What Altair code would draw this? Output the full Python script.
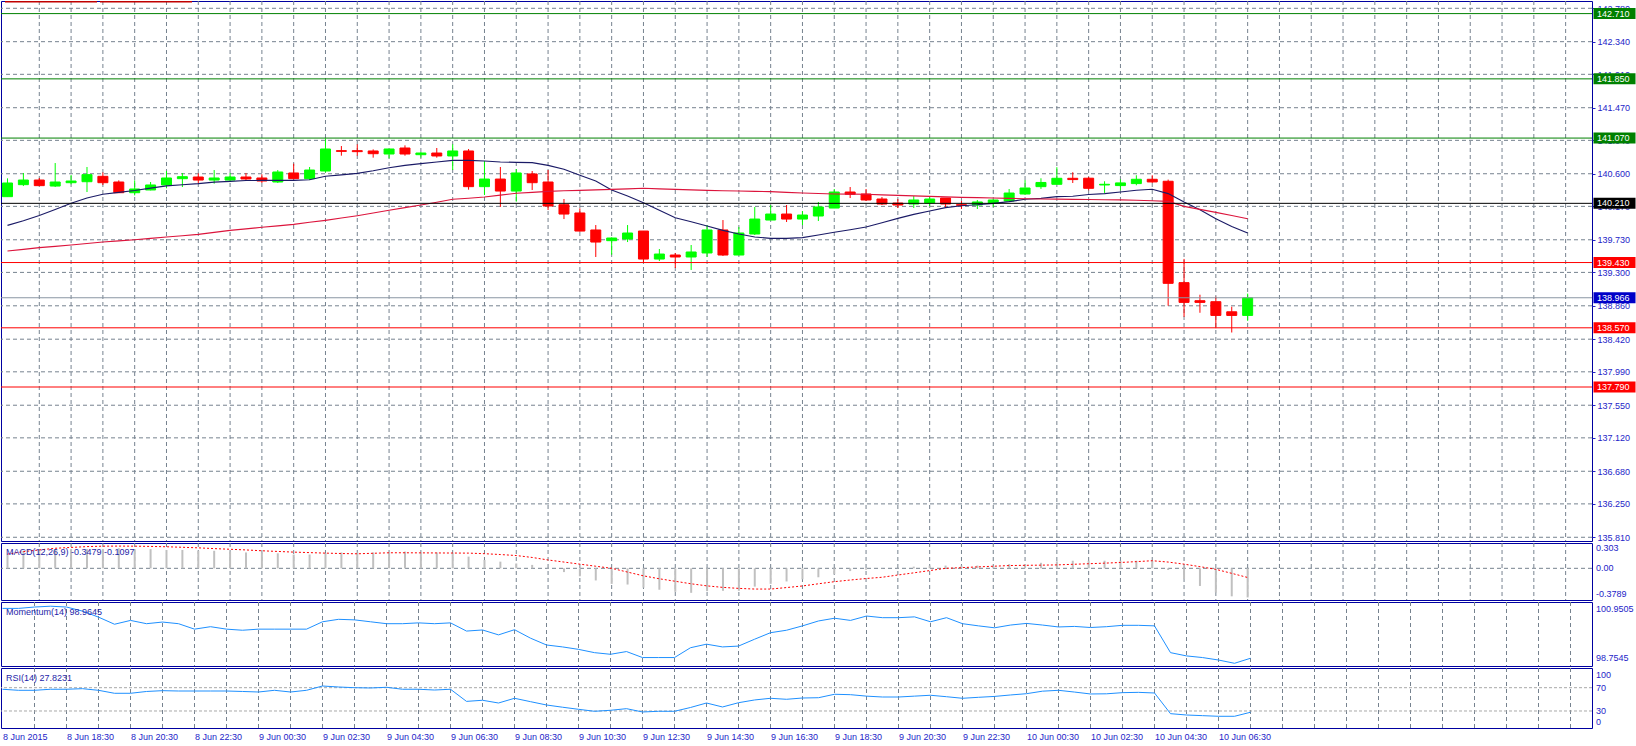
import json
import altair as alt
import pandas as pd

# ---------------- data ----------------
bars = list(range(79))
opens = [140.298, 140.456, 140.517, 140.438, 140.482, 140.495, 140.566, 140.491, 140.350, 140.386,
         140.452, 140.535, 140.557, 140.517, 140.517, 140.557, 140.544, 140.491, 140.610, 140.535,
         140.636, 140.904, 140.904, 140.900, 140.860, 140.939, 140.851, 140.873, 140.834, 140.900,
         140.430, 140.530, 140.372, 140.597, 140.491, 140.192, 140.083, 139.859, 139.718, 139.740,
         139.845, 139.476, 139.529, 139.503, 139.556, 139.859, 139.529, 139.806, 139.990, 140.069,
         140.003, 140.043, 140.148, 140.359, 140.333, 140.267, 140.214, 140.201, 140.214, 140.280,
         140.192, 140.188, 140.214, 140.241, 140.333, 140.430, 140.461, 140.540, 140.541, 140.452,
         140.444, 140.470, 140.527, 140.501, 139.165, 138.927, 138.914, 138.781, 138.733]
highs = [140.539, 140.610, 140.544, 140.741, 140.583, 140.689, 140.618, 140.513, 140.513, 140.491,
         140.636, 140.610, 140.605, 140.649, 140.610, 140.610, 140.592, 140.649, 140.733, 140.689,
         141.066, 140.965, 140.987, 140.921, 140.926, 140.974, 140.886, 140.939, 140.987, 140.926,
         140.768, 140.689, 140.662, 140.636, 140.649, 140.267, 140.144, 139.924, 139.762, 139.924,
         139.845, 139.608, 139.556, 139.661, 139.924, 139.990, 139.898, 140.162, 140.188, 140.188,
         140.109, 140.228, 140.399, 140.425, 140.399, 140.293, 140.267, 140.306, 140.306, 140.280,
         140.241, 140.254, 140.263, 140.399, 140.517, 140.540, 140.686, 140.620, 140.558, 140.501,
         140.527, 140.580, 140.580, 140.523, 139.478, 139.006, 138.980, 138.848, 139.020]
lows = [140.298, 140.438, 140.438, 140.425, 140.460, 140.359, 140.452, 140.346, 140.315, 140.381,
        140.408, 140.425, 140.473, 140.469, 140.491, 140.504, 140.478, 140.478, 140.526, 140.517,
        140.618, 140.838, 140.838, 140.812, 140.803, 140.838, 140.812, 140.812, 140.649, 140.390,
        140.320, 140.162, 140.232, 140.386, 140.122, 140.003, 139.837, 139.503, 139.533, 139.700,
        139.428, 139.450, 139.358, 139.332, 139.503, 139.516, 139.529, 139.793, 139.990, 139.964,
        139.924, 139.977, 140.148, 140.280, 140.241, 140.188, 140.148, 140.148, 140.175, 140.148,
        140.135, 140.135, 140.162, 140.228, 140.320, 140.400, 140.461, 140.478, 140.382, 140.347,
        140.382, 140.448, 140.479, 138.861, 138.715, 138.768, 138.565, 138.508, 138.662]
closes = [140.478, 140.517, 140.443, 140.491, 140.504, 140.588, 140.482, 140.350, 140.399, 140.452,
          140.544, 140.561, 140.517, 140.544, 140.557, 140.531, 140.504, 140.623, 140.535, 140.649,
          140.926, 140.895, 140.891, 140.864, 140.926, 140.860, 140.873, 140.834, 140.900, 140.430,
          140.530, 140.372, 140.610, 140.482, 140.175, 140.069, 139.845, 139.700, 139.753, 139.819,
          139.476, 139.542, 139.503, 139.569, 139.859, 139.529, 139.819, 140.003, 140.069, 140.003,
          140.056, 140.162, 140.359, 140.329, 140.254, 140.201, 140.188, 140.254, 140.267, 140.201,
          140.184, 140.228, 140.254, 140.346, 140.412, 140.485, 140.540, 140.523, 140.408, 140.461,
          140.479, 140.527, 140.492, 139.156, 138.905, 138.905, 138.733, 138.733, 138.966]
ma_fast = [139.920, 139.980, 140.050, 140.130, 140.210, 140.280, 140.330, 140.355, 140.380, 140.410,
           140.440, 140.455, 140.470, 140.490, 140.500, 140.510, 140.513, 140.513, 140.513, 140.520,
           140.566, 140.585, 140.605, 140.640, 140.680, 140.710, 140.733, 140.755, 140.776, 140.776,
           140.768, 140.755, 140.750, 140.746, 140.710, 140.658, 140.579, 140.504, 140.386, 140.307,
           140.219, 140.118, 140.021, 139.968, 139.911, 139.854, 139.806, 139.766, 139.749, 139.749,
           139.758, 139.793, 139.828, 139.863, 139.898, 139.955, 140.012, 140.065, 140.109, 140.153,
           140.179, 140.192, 140.210, 140.232, 140.263, 140.276, 140.298, 140.303, 140.327, 140.338,
           140.360, 140.382, 140.395, 140.338, 140.228, 140.126, 140.007, 139.906, 139.818]
ma_slow = [139.582, 139.604, 139.626, 139.643, 139.661, 139.680, 139.700, 139.715, 139.731, 139.748,
           139.766, 139.783, 139.801, 139.827, 139.854, 139.874, 139.894, 139.913, 139.933, 139.960,
           139.986, 140.016, 140.047, 140.082, 140.118, 140.153, 140.188, 140.225, 140.263, 140.278,
           140.293, 140.318, 140.342, 140.355, 140.368, 140.375, 140.381, 140.388, 140.394, 140.400,
           140.408, 140.400, 140.394, 140.388, 140.381, 140.376, 140.372, 140.368, 140.364, 140.355,
           140.346, 140.340, 140.333, 140.331, 140.329, 140.322, 140.315, 140.308, 140.302, 140.295,
           140.289, 140.285, 140.280, 140.275, 140.271, 140.267, 140.265, 140.262, 140.260, 140.258,
           140.255, 140.250, 140.245, 140.236, 140.170, 140.130, 140.091, 140.050, 140.007]
macd_main = [0.16, 0.21, 0.23, 0.23, 0.23, 0.23, 0.23, 0.24, 0.23, 0.23,
             0.22, 0.22, 0.21, 0.21, 0.20, 0.19, 0.19, 0.18, 0.165, 0.165,
             0.18, 0.19, 0.19, 0.19, 0.20, 0.20, 0.19, 0.19, 0.18, 0.14,
             0.10, 0.08, 0.058, 0.041, 0.005, -0.045, -0.095, -0.145, -0.186, -0.194,
             -0.231, -0.256, -0.281, -0.293, -0.273, -0.269, -0.269, -0.219, -0.186, -0.157,
             -0.132, -0.107, -0.070, -0.033, -0.017, -0.003, 0.003, 0.020, 0.033, 0.033,
             0.033, 0.033, 0.025, 0.050, 0.050, 0.066, 0.083, 0.091, 0.091, 0.091,
             0.091, 0.091, 0.091, -0.020, -0.128, -0.211, -0.289, -0.335, -0.348]
macd_signal = [0.17, 0.20, 0.22, 0.24, 0.25, 0.26, 0.265, 0.266, 0.265, 0.262,
               0.258, 0.252, 0.245, 0.236, 0.228, 0.220, 0.210, 0.202, 0.194, 0.188,
               0.182, 0.177, 0.174, 0.180, 0.186, 0.186, 0.185, 0.184, 0.183, 0.182,
               0.175, 0.165, 0.153, 0.130, 0.100, 0.075, 0.050, 0.025, 0.000, -0.045,
               -0.090, -0.125, -0.155, -0.185, -0.210, -0.228, -0.240, -0.248, -0.248, -0.230,
               -0.211, -0.185, -0.160, -0.140, -0.122, -0.107, -0.080, -0.054, -0.027, 0.000,
               0.008, 0.017, 0.025, 0.033, 0.036, 0.038, 0.041, 0.048, 0.055, 0.062,
               0.070, 0.080, 0.091, 0.075, 0.050, 0.020, -0.012, -0.060, -0.1097]
momentum = [100.79, 100.79, 100.84, 100.87, 100.84, 100.69, 100.47, 100.21, 100.35, 100.23,
            100.29, 100.23, 100.03, 100.12, 100.03, 99.99, 100.03, 100.03, 100.03, 100.03,
            100.30, 100.39, 100.37, 100.30, 100.23, 100.23, 100.26, 100.23, 100.26, 99.96,
            100.00, 99.82, 100.01, 99.70, 99.45, 99.38, 99.29, 99.17, 99.11, 99.21,
            98.99, 98.99, 98.99, 99.35, 99.48, 99.38, 99.41, 99.66, 99.90, 99.99,
            100.15, 100.33, 100.43, 100.35, 100.51, 100.45, 100.45, 100.48, 100.30, 100.45,
            100.23, 100.15, 100.08, 100.18, 100.24, 100.18, 100.11, 100.13, 100.09, 100.12,
            100.17, 100.17, 100.15, 99.17, 99.05, 98.99, 98.90, 98.78, 98.9645]
rsi = [67.3, 65.5, 65.5, 67.3, 67.3, 68.3, 65.5, 60.4, 60.4, 63.5,
       64.9, 64.3, 64.3, 64.3, 64.3, 63.5, 62.6, 65.5, 62.6, 65.5,
       72.9, 71.2, 70.0, 69.5, 70.7, 67.3, 67.3, 66.0, 67.3, 46.5,
       48.4, 43.7, 51.8, 46.0, 40.3, 36.5, 32.9, 29.5, 31.2, 34.0,
       28.3, 29.5, 29.5, 36.0, 43.7, 36.9, 44.2, 48.9, 51.8, 50.1,
       52.3, 52.8, 58.7, 58.0, 55.5, 54.0, 54.0, 55.5, 57.0, 54.5,
       51.8, 53.5, 55.0, 57.5, 59.7, 64.0, 65.5, 62.5, 59.2, 59.5,
       61.5, 62.0, 60.9, 25.4, 23.1, 22.0, 20.9, 20.9, 27.82]

grid_bars = list(range(2, 100, 2))
label_bars = list(range(0, 80, 4))
time_labels = ["8 Jun 2015", "8 Jun 18:30", "8 Jun 20:30", "8 Jun 22:30", "9 Jun 00:30",
               "9 Jun 02:30", "9 Jun 04:30", "9 Jun 06:30", "9 Jun 08:30", "9 Jun 10:30",
               "9 Jun 12:30", "9 Jun 14:30", "9 Jun 16:30", "9 Jun 18:30", "9 Jun 20:30",
               "9 Jun 22:30", "10 Jun 00:30", "10 Jun 02:30", "10 Jun 04:30", "10 Jun 06:30"]
price_grid = [142.78, 142.34, 141.91, 141.47, 141.04, 140.60, 140.17, 139.73, 139.30,
              138.86, 138.42, 137.99, 137.55, 137.12, 136.68, 136.25, 135.81]
level_values = [142.710, 141.850, 141.070, 140.210, 139.430, 138.570, 137.790]
level_colors = ["#008000", "#008000", "#008000", "#000000", "#FF0000", "#FF0000", "#FF0000"]
box_colors = ["#008000", "#008000", "#008000", "#000000", "#FF0000", "#FF0000", "#FF0000"]
bid_value = 138.966
macd_scale_vals = [0.303, 0.0, -0.3789]
macd_scale_text = ["0.303", "0.00", "-0.3789"]
mom_scale_vals = [100.9505, 98.7545]
mom_scale_text = ["100.9505", "98.7545"]
rsi_scale_vals = [100, 70, 30, 0]
rsi_scale_text = ["100", "70", "30", "0"]
rsi_levels = [70, 30]
macd_title = "MACD(12,26,9) -0.3479 -0.1097"
mom_title = "Momentum(14) 98.9645"
rsi_title = "RSI(14) 27.8231"

# ---------------- styling ----------------
W = 1591
FONT = "Liberation Sans"
AX_BLUE = "#2424C8"
GRID = "#76828F"
FRAME = "#0000A0"
BULL = "#00FF00"
BEAR = "#FF0000"

xs = alt.Scale(domain=[-0.09375, 99.34375], nice=False, zero=False)


def xenc(field, axis=None):
    return alt.X(f"{field}:Q", scale=xs, axis=axis)


def vgrid_layer(axis=None):
    return alt.Chart(pd.DataFrame({"b": grid_bars})).mark_rule(
        color=GRID, strokeDash=[4, 3], strokeWidth=1).encode(x=xenc("b", axis))


def title_layer(text, y):
    return alt.Chart(pd.DataFrame({"t": [text]})).mark_text(
        align="left", baseline="middle", font=FONT, fontSize=9, color="#1E1EA8"
    ).encode(text="t:N", x=alt.value(5), y=alt.value(y))


def scale_labels(vals, texts, baselines, ys, xaxis=None):
    layers = []
    for v, t, b in zip(vals, texts, baselines):
        layers.append(
            alt.Chart(pd.DataFrame({"v": [v], "t": [t]})).mark_text(
                align="left", baseline=b, font=FONT, fontSize=9, color=AX_BLUE,
                dy=(1 if b == "top" else (-1 if b == "bottom" else 0))
            ).encode(text="t:N", x=alt.value(W + 4), y=alt.Y("v:Q", scale=ys, axis=None))
        )
    return layers


# ---------------- main price panel ----------------
ys_main = alt.Scale(domain=[135.761, 142.876], nice=False, zero=False)
yaxis = alt.Axis(orient="right", values=price_grid, format=".3f", labelColor=AX_BLUE,
                 labelFont=FONT, labelFontSize=9, tickColor=AX_BLUE, tickSize=3,
                 labelPadding=2, domain=False, grid=False, title=None,
                 labelOverlap=False, labelFlush=False, labelBound=False)


def ymain(field):
    return alt.Y(f"{field}:Q", scale=ys_main, axis=yaxis)


candles = pd.DataFrame({"bar": bars, "open": opens, "high": highs, "low": lows,
                        "close": closes, "fast": ma_fast, "slow": ma_slow})
candles["dir"] = ["up" if c >= o else "down" for o, c in zip(opens, closes)]
cscale = alt.Scale(domain=["up", "down"], range=[BULL, BEAR])

hgrid = alt.Chart(pd.DataFrame({"v": price_grid})).mark_rule(
    color=GRID, strokeDash=[4, 3], strokeWidth=1
).encode(y=ymain("v"))

wicks = alt.Chart(candles).mark_rule(strokeWidth=1).encode(
    x=xenc("bar"), y=ymain("low"), y2="high:Q",
    color=alt.Color("dir:N", scale=cscale, legend=None))

bodies = alt.Chart(candles).mark_bar(size=10, strokeWidth=1).encode(
    x=xenc("bar"), y=ymain("open"), y2="close:Q",
    color=alt.Color("dir:N", scale=cscale, legend=None),
    stroke=alt.Stroke("dir:N", scale=cscale, legend=None))

ma1 = alt.Chart(candles).mark_line(color="#1A1A66", strokeWidth=1.1).encode(
    x=xenc("bar"), y=ymain("fast"))
ma2 = alt.Chart(candles).mark_line(color="#DC143C", strokeWidth=1.1).encode(
    x=xenc("bar"), y=ymain("slow"))

lv = pd.DataFrame({"v": level_values, "c": level_colors, "b": box_colors,
                   "t": [f"{v:.3f}" for v in level_values]})
level_lines = alt.Chart(lv).mark_rule(strokeWidth=1).encode(
    y=ymain("v"), color=alt.Color("c:N", scale=None))

bid_df = pd.DataFrame({"v": [bid_value], "t": [f"{bid_value:.3f}"]})
bid_line = alt.Chart(bid_df).mark_rule(strokeWidth=1, color="#8A96A3").encode(y=ymain("v"))

boxes = alt.Chart(lv).mark_tick(orient="horizontal", thickness=11, size=42, opacity=1).encode(
    x=alt.value(1613.5), y=ymain("v"), color=alt.Color("b:N", scale=None))
box_text = alt.Chart(lv).mark_text(align="left", baseline="middle", font=FONT,
                                   fontSize=9, color="white").encode(
    x=alt.value(1596), y=ymain("v"), text="t:N")
bid_box = alt.Chart(bid_df).mark_tick(orient="horizontal", thickness=11, size=42, opacity=1,
                                      color="#0000C8").encode(
    x=alt.value(1613.5), y=ymain("v"))
bid_text = alt.Chart(bid_df).mark_text(align="left", baseline="middle", font=FONT,
                                       fontSize=9, color="white").encode(
    x=alt.value(1596), y=ymain("v"), text="t:N")

red_marks = alt.Chart(pd.DataFrame({"a": [0]})).mark_rule(color="#C00000", strokeWidth=1.5).encode(
    x=alt.value(4), x2=alt.value(96), y=alt.value(0.75))
red_marks2 = alt.Chart(pd.DataFrame({"a": [0]})).mark_rule(color="#C00000", strokeWidth=1.5).encode(
    x=alt.value(99), x2=alt.value(191), y=alt.value(0.75))

main = alt.layer(hgrid, vgrid_layer(), wicks, bodies, ma1, ma2, bid_line, level_lines,
                 boxes, box_text, bid_box, bid_text, red_marks, red_marks2
                 ).properties(width=W, height=540)

# ---------------- MACD panel ----------------
ys_macd = alt.Scale(domain=[-0.3789, 0.303], nice=False, zero=False)
ind = pd.DataFrame({"bar": bars, "macd": macd_main, "sig": macd_signal,
                    "mom": momentum, "rsi": rsi})
zero_line = alt.Chart(pd.DataFrame({"v": [0.0]})).mark_rule(
    color=GRID, strokeDash=[4, 3]).encode(y=alt.Y("v:Q", scale=ys_macd, axis=None))
hist = alt.Chart(ind).mark_bar(size=2, color="#C0C0C0").encode(
    x=xenc("bar"), y=alt.Y("macd:Q", scale=ys_macd, axis=None), y2=alt.datum(0))
sig = alt.Chart(ind).mark_line(color="#FF0000", strokeDash=[2, 2], strokeWidth=1).encode(
    x=xenc("bar"), y=alt.Y("sig:Q", scale=ys_macd, axis=None))
macd_panel = alt.layer(
    vgrid_layer(), zero_line, hist, sig, title_layer(macd_title, 8.5),
    *scale_labels(macd_scale_vals, macd_scale_text, ["top", "middle", "bottom"], ys_macd)
).properties(width=W, height=57)

# ---------------- Momentum panel ----------------
ys_mom = alt.Scale(domain=[98.681, 101.024], nice=False, zero=False)
mom_line = alt.Chart(ind).mark_line(color="#1E90FF", strokeWidth=1).encode(
    x=xenc("bar"), y=alt.Y("mom:Q", scale=ys_mom, axis=None))
mom_panel = alt.layer(
    vgrid_layer(), mom_line, title_layer(mom_title, 9.5),
    *scale_labels(mom_scale_vals, mom_scale_text, ["top", "bottom"], ys_mom)
).properties(width=W, height=64)

# ---------------- RSI panel ----------------
ys_rsi = alt.Scale(domain=[0.8, 103.8], nice=False, zero=False)
label_expr = ("datum.value % 4 == 0 ? " + json.dumps(time_labels)
              + "[round(datum.value / 4)] : ''")
xaxis_rsi = alt.Axis(values=label_bars, labelExpr=label_expr, labelAlign="left",
                     labelBaseline="top", labelPadding=4, labelColor=AX_BLUE,
                     labelFont=FONT, labelFontSize=9, ticks=False, domain=False,
                     grid=False, title=None, labelOverlap=False, labelFlush=False,
                     labelBound=False)
rsi_lv = alt.Chart(pd.DataFrame({"v": rsi_levels})).mark_rule(
    color="#A8A8A8", strokeDash=[3, 2]).encode(y=alt.Y("v:Q", scale=ys_rsi, axis=None))
rsi_line = alt.Chart(ind).mark_line(color="#1E90FF", strokeWidth=1).encode(
    x=xenc("bar", xaxis_rsi), y=alt.Y("rsi:Q", scale=ys_rsi, axis=None))
rsi_panel = alt.layer(
    vgrid_layer(xaxis_rsi), rsi_lv, rsi_line, title_layer(rsi_title, 9.5),
    *scale_labels(rsi_scale_vals, rsi_scale_text, ["top", "middle", "middle", "bottom"], ys_rsi)
).properties(width=W, height=60)

chart = alt.vconcat(main, macd_panel, mom_panel, rsi_panel, spacing=2, bounds="flush").properties(
    padding=0, background="white"
).configure_view(stroke=FRAME, strokeWidth=1)

chart.save("out.html", embed_options={"renderer": "svg", "actions": False})
